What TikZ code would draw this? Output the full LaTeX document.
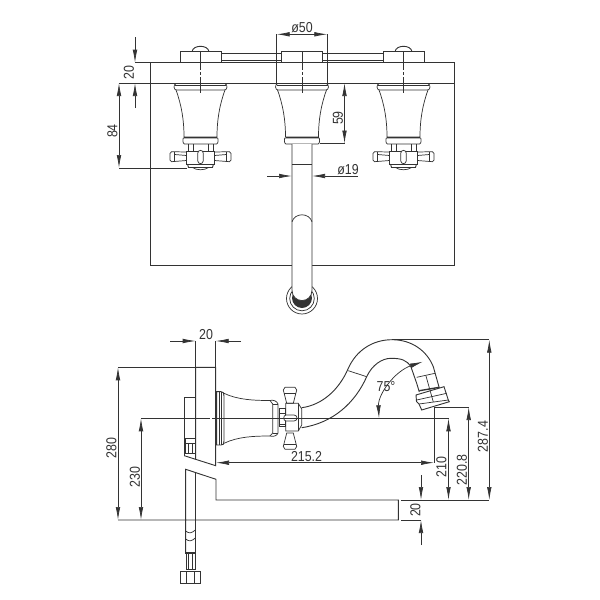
\documentclass[tikz,border=0pt]{standalone}
\usepackage{fontspec}
\setmainfont[FakeStretch=0.86]{Liberation Sans}
\usetikzlibrary{arrows.meta}
\definecolor{ink}{gray}{0.2}
\tikzset{
  ln/.style={draw=ink,line width=0.36pt},
  med/.style={draw=ink,line width=0.46pt},
  thk/.style={draw=ink,line width=0.68pt},
  dimline/.style={draw=ink,line width=0.36pt},
  arr/.style={dimline,-{Latex[length=6.5pt,width=2.3pt]}},
  arrs/.style={dimline,{Latex[length=6.5pt,width=2.3pt]}-{Latex[length=6.5pt,width=2.3pt]}},
  dashax/.style={draw=ink,line width=0.42pt,dash pattern=on 3.5pt off 1.2pt on 1.2pt off 1.2pt},
  lab/.style={inner sep=0pt,text=ink,font=\fontsize{7.2}{8}\selectfont},
  vlab/.style={lab,rotate=90},
}
\newcommand{\handletop}[1]{%
 \begin{scope}[shift={(#1,0)}]
  \draw[ln,fill=white] (-24.5,90) .. controls (-19,105) and (-16.5,120) .. (-16.5,137) -- (16.5,137) .. controls (16.5,120) and (19,105) .. (24.5,90);
  \draw[ln] (-24.5,83.5) -- (-26,85) -- (-26.5,87) .. controls (-26.5,89) and (-25,90) .. (-24,90) -- (24,90) .. controls (25,90) and (26.5,89) .. (26.5,87) -- (26,85) -- (24.5,83.5);
  \draw[thk] (-25.5,85.7) -- (25.5,85.7);
  \draw[ln,fill=white] (-17,138) .. controls (-18,138) and (-18,144) .. (-16,144) -- (16,144) .. controls (18,144) and (18,138) .. (17,138) -- cycle;
  \draw[thk] (-16.5,137.8) -- (16.5,137.8);
 \end{scope}}
\newcommand{\crosstop}[1]{%
 \begin{scope}[shift={(#1,0)}]
  \draw[ln] (-12.5,144) -- (-12.5,152) (12.5,144) -- (12.5,152) (-7.5,144) -- (-7.5,152) (7.5,144) -- (7.5,152);
  \draw[ln] (-14,152) -- (-29,151.7) -- (-30.5,153.5) -- (-30.5,160) -- (-29,161.7) -- (-14,160.5);
  \draw[ln] (14,152) -- (29,151.7) -- (30.5,153.5) -- (30.5,160) -- (29,161.7) -- (14,160.5);
  \draw[med] (-26,152) -- (-26,161.5) (26,152) -- (26,161.5);
  \draw[ln] (-26,154.5) -- (-14,155.5) (26,154.5) -- (14,155.5);
  \draw[med] (-14,151.7) -- (14,151.7) -- (14,164) -- (-14,164) -- cycle;
  \draw[ln,fill=white] (-2.7,153) .. controls (-2.7,149.5) and (2.7,149.5) .. (2.7,153) -- (2.7,161) .. controls (2.7,164.5) and (-2.7,164.5) .. (-2.7,161) -- cycle;
  \draw[med] (-13,164) -- (-12,167.5) -- (12,167.5) -- (13,164);
  \draw[ln] (-8,167.5) .. controls (-4,170.5) and (4,170.5) .. (8,167.5);
 \end{scope}}
\newcommand{\escutch}[1]{%
  \draw[med] (#1-20.5,62.7) -- (#1-20.5,51.7) -- (#1+20.5,51.7) -- (#1+20.5,62.7);}
\begin{document}
\begin{tikzpicture}[x=0.5pt,y=-0.5pt]
\useasboundingbox (0,0) rectangle (600,600);
% ---------- top view ----------
\draw[med] (150,62.7) rectangle (454,265);
\draw[med] (150,83) -- (454,83);
\draw[med] (221,53.3) -- (281.5,53.3) (221,60.7) -- (281.5,60.7) (322.5,53.3) -- (383,53.3) (322.5,60.7) -- (383,60.7);
\escutch{200.5}\escutch{302}\escutch{403.5}
\draw[med] (192,51.7) .. controls (193,44.5) and (208,44.5) .. (209,51.7);
\draw[med] (395,51.7) .. controls (396,44.5) and (411,44.5) .. (412,51.7);
\handletop{200.5}\handletop{302}\handletop{403.5}
\crosstop{200.5}\crosstop{403.5}
\foreach \c in {200.5,302,403.5}{
  \draw[ln] (\c,51.7) -- (\c,62.7) (\c,83) -- (\c,93);
  \draw[dashax] (\c,63) -- (\c,83);
}
% spout, top view
\draw[fill=ink,draw=none] (302,298) circle (10);
\draw[ln] (302,298.5) circle (12.3);
\draw[ln] (302,298.5) circle (15.5);
\draw[ln,fill=white] (292,144) -- (292,290) .. controls (292,304) and (312,304) .. (312,290) -- (312,144);
\draw[ln] (292,164) -- (312,164);
\draw[ln] (292,221.7) .. controls (295,212.5) and (309,212.5) .. (312,221.7);
% dimensions, top view
\coordinate (t20a) at (135,62.7); \coordinate (t20b) at (135,83);
\draw[dimline] (150,62.7) -- (t20a) (150,83) -- (119,83);
\draw[arr] (135,37) -- (t20a);
\draw[arr] (135,108) -- (t20b);
\node[vlab] (l20top) at (129,72.5) {20};
\coordinate (t84a) at (119,83); \coordinate (t84b) at (119,168);
\draw[arrs] (t84a) -- (t84b);
\draw[dimline] (t84b) -- (187,168);
\node[vlab] (l84) at (112.5,131) {84};
\coordinate (t50a) at (276.7,34.3); \coordinate (t50b) at (327.3,34.3);
\draw[dimline] (t50a) -- (276.7,84) (t50b) -- (327.3,84);
\draw[arrs] (t50a) -- (t50b);
\node[lab] (l50) at (302,28) {ø50};
\coordinate (t59a) at (344.5,83); \coordinate (t59b) at (344.5,143.5);
\draw[arrs] (t59a) -- (t59b);
\draw[dimline] (320,143.5) -- (t59b);
\node[vlab] (l59) at (338,118) {59};
\coordinate (t19a) at (292,176); \coordinate (t19b) at (312,176);
\draw[arr] (267,176) -- (t19a);
\draw[arr] (358,176) -- (t19b);
\node[lab] (l19) at (348,170) {ø19};
% ---------- side view ----------
\draw[med] (184.3,455.7) -- (184.3,397.7) -- (195.7,397.7);
\draw[med] (195.7,459) -- (195.7,367.3) -- (215.7,367.3) -- (215.7,465.7) -- (184.3,455.7);
\draw[ln] (185,438.3) rectangle (195.7,453.3);
\draw[ln] (185,443) -- (195.7,443) (188.5,443) -- (188.5,453.3) (192,443) -- (192,453.3);
% lower piece
\draw[med] (185.7,553) -- (185.7,469.3) -- (216,479.3) -- (216,500) -- (398.3,500) -- (398.3,520) -- (118,520);
\draw[thk] (195.3,473) -- (195.3,520);
\draw[ln] (195.3,520) -- (195.3,553);
\draw[ln] (185.7,531) .. controls (189,534) and (192,533) .. (195.3,530);
\draw[ln] (185.7,539) .. controls (189,542) and (192,541) .. (195.3,538);
\draw[thk] (185.3,553) -- (195.7,553);
\draw[ln] (186,553) rectangle (195,569);
\draw[ln] (188.5,553) -- (188.5,569) (192.5,553) -- (192.5,569);
\draw[thk] (186,569.5) -- (195,569.5);
\draw[med] (180,571) rectangle (200,583.3);
\draw[ln] (186,571) -- (186,583.3) (194,571) -- (194,583.3);
% side handle
\draw[med] (216.7,391.7) -- (221,391.7) .. controls (223.5,391.7) and (224,393) .. (224,396) -- (224,441) .. controls (224,444) and (223.5,445) .. (221,445) -- (216.7,445) -- cycle;
\draw[ln] (219,391.7) -- (219,445) (221.5,391.7) -- (221.5,445);
\draw[ln] (224,393.3) .. controls (238,400) and (255,400.5) .. (270,400.5);
\draw[ln] (224,443.3) .. controls (238,436.5) and (255,436) .. (270,436);
\draw[ln] (270,400.5) .. controls (273,399.5) and (277,401) .. (278,404) -- (278,433) .. controls (277,436) and (273,437) .. (270,436);
\draw[ln] (270,400.5) -- (272.7,404) -- (272.7,433) -- (270,436);
\draw[ln] (272.7,404) -- (278,404) (272.7,433) -- (278,433);
\draw[ln] (279,408) -- (285,408) -- (285,426.7) -- (279,426.7) -- cycle (279,413) -- (285,413) (279,424) -- (285,424);
% cross handle side
\draw[ln] (285,387.3) -- (295,387.3) -- (296.7,390) -- (293.3,403.3) -- (286.7,403.3) -- (283.3,390) -- cycle;
\draw[ln] (286.7,433) -- (293.3,433) -- (296.7,446.5) -- (295,449.2) -- (285,449.2) -- (283.3,446.5) -- cycle;
\draw[ln] (283.8,393) -- (296,393) (283.8,444) -- (296,444);
\draw[ln] (285.7,403.3) -- (298.3,403.3) -- (301.7,409) -- (301.7,425) -- (298.3,431) -- (285.7,431) -- cycle;
\draw[med] (298,403.5) -- (298,431);
\draw[ln,fill=white] (286,415) -- (294,415) .. controls (298,415) and (298,421) .. (294,421) -- (286,421) .. controls (283,421) and (283,415) .. (286,415) -- cycle;
% spout side
\draw[med] (301.7,407.7) .. controls (322,405) and (339,390) .. (348.3,368.3) .. controls (356,351) and (372,339.7) .. (392,339.7) .. controls (412,339.7) and (427,351) .. (433.3,366.7) -- (439.3,388);
\draw[med] (301.7,427.7) .. controls (333,423) and (355,403) .. (366.7,376.7) .. controls (372,365) and (382,358.3) .. (391,358.3) .. controls (401,358.3) and (407,360) .. (411,367) -- (416.7,383.3) -- (419.3,392);
\draw[ln] (348.3,370.7) -- (366.7,376.7);
\draw[ln] (416.7,377.3) -- (435,373.3);
\draw[thk] (419.3,390.7) -- (439.3,387.3);
\draw[ln] (426,376) -- (433.3,402);
\draw[med] (416,395) -- (444,386.7) -- (448.3,400) -- (449.3,401.7) -- (421.7,410) -- (419,404) -- (416.5,401.5) -- cycle;
\draw[ln] (416.7,400) -- (446.7,393.3) (419,404) -- (448.3,400);
% dimensions, side view
\coordinate (s20a) at (195.7,341); \coordinate (s20b) at (215.7,341);
\draw[dimline] (s20a) -- (195.7,367.3) (s20b) -- (215.7,367.3);
\draw[arr] (170,341) -- (s20a);
\draw[arr] (241,341) -- (s20b);
\node[lab] (l20a) at (206,335) {20};
\coordinate (s280a) at (118,367.3); \coordinate (s280b) at (118,520);
\draw[arrs] (s280a) -- (s280b);
\draw[dimline] (s280a) -- (195.7,367.3);
\node[vlab] (l280) at (111.5,448) {280};
\coordinate (s230a) at (141,418.3); \coordinate (s230b) at (141,520);
\draw[arrs] (s230a) -- (s230b);
\node[vlab] (l230) at (135,477) {230};
\draw[dimline] (s230a) -- (203,418.3) (216,418.3) -- (448.5,418.3);
\draw[dashax] (203,418.3) -- (216,418.3);
\coordinate (s215a) at (216,462.7); \coordinate (s215b) at (434,462.7);
\draw[arrs] (s215a) -- (s215b);
\draw[dimline] (s215b) -- (434,407);
\node[lab] (l215) at (306.5,457) {215.2};
\coordinate (s210a) at (448.5,418.3); \coordinate (s210b) at (448.5,500);
\draw[arrs] (s210a) -- (s210b);
\node[vlab] (l210) at (441.5,467) {210};
\coordinate (s220a) at (468.7,407) ; \coordinate (s220b) at (468.7,500);
\draw[arrs] (s220a) -- (s220b);
\draw[dimline] (434,407) -- (s220a);
\node[vlab] (l220) at (462,470) {220.8};
\coordinate (s287a) at (489.3,339.7); \coordinate (s287b) at (489.3,500);
\draw[arrs] (s287a) -- (s287b);
\draw[dimline] (392,339.7) -- (s287a);
\node[vlab] (l287) at (483,436.5) {287.4};
\draw[dimline] (401,500) -- (s287b) (401,520) -- (421,520);
\coordinate (s20c) at (421,500); \coordinate (s20d) at (421,520);
\draw[arr] (421,475) -- (s20c);
\draw[arr] (421,545) -- (s20d);
\node[vlab] (l20b) at (415.5,510) {20};
\coordinate (a75a) at (379,418.3); \coordinate (a75b) at (423,361.7);
\draw[arrs] (a75a) .. controls (378,394) and (395,371) .. (a75b);
\node[lab] (l75) at (386,386.5) {75°};
\end{tikzpicture}
\end{document}
